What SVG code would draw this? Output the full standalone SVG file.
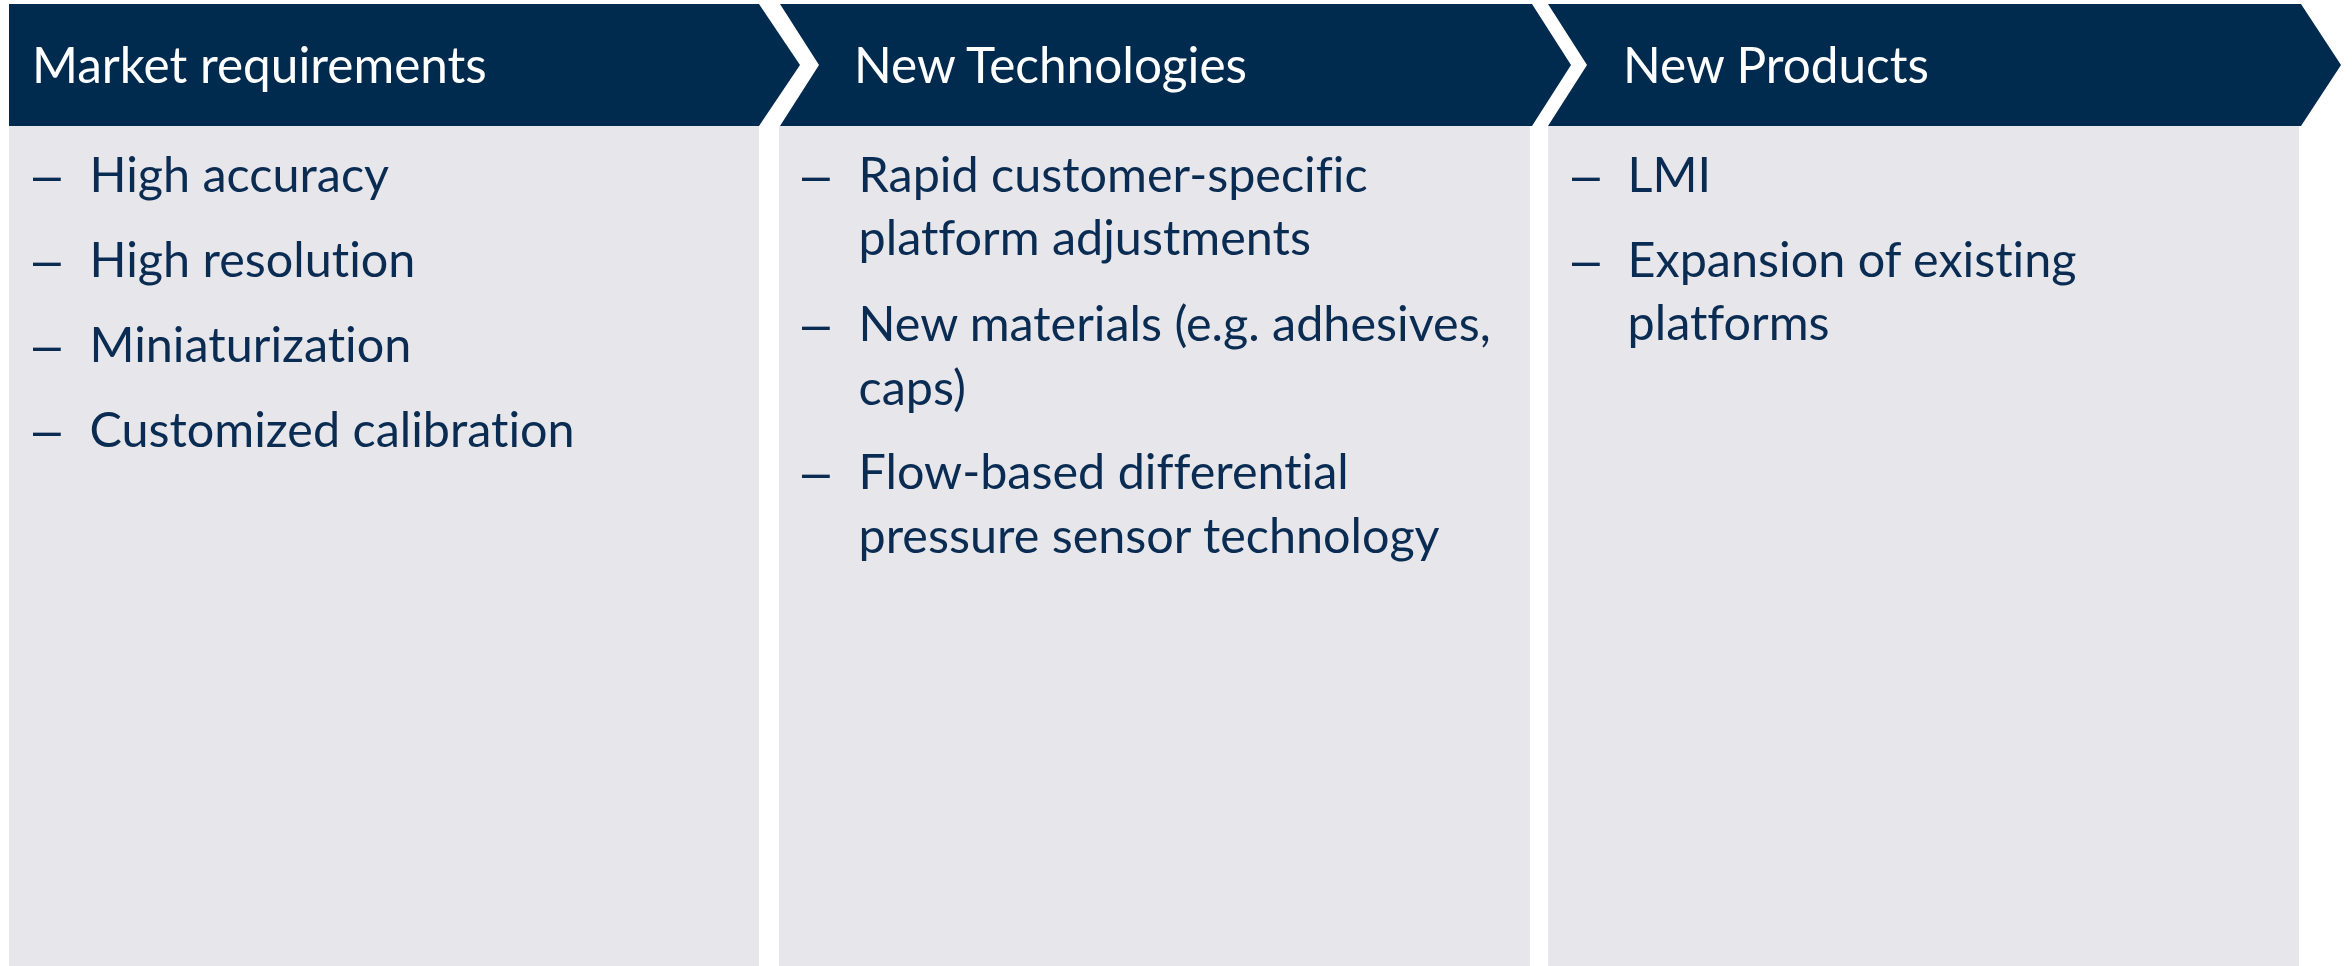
<svg xmlns="http://www.w3.org/2000/svg" width="2352" height="966" viewBox="0 0 2352 966">
<style>
.hdr{fill:#012A4F}
.body{fill:#E7E6EB}
text{font-variant-ligatures:none;font-feature-settings:"liga" 0,"clig" 0}
.ht{font-family:Lato,"Open Sans",sans-serif;font-size:49.5px;fill:#FFFFFF}
.bt{font-family:Lato,"Open Sans",sans-serif;font-size:48.5px;fill:#0B2C52}
.dash{font-family:"Liberation Sans",Arial,sans-serif;font-size:50px;fill:#0B2C52}
</style>
<rect width="2352" height="966" fill="#FFFFFF"/>
<g id="col-market">
<rect class="body" x="9" y="126" width="750" height="840"/>
<path class="hdr" d="M9,4 L759,4 L800,65 L759,126 L9,126 Z"/>
<text class="ht" x="32" y="83">Market requirements</text>
<text class="dash" x="33" y="192">–</text><text class="bt" x="89.5" y="192">High accuracy</text>
<text class="dash" x="33" y="277">–</text><text class="bt" x="89.5" y="277">High resolution</text>
<text class="dash" x="33" y="362">–</text><text class="bt" x="89.5" y="362">Miniaturization</text>
<text class="dash" x="33" y="447">–</text><text class="bt" x="89.5" y="447">Customized calibration</text>
</g>
<g id="col-tech">
<rect class="body" x="779" y="126" width="751" height="840"/>
<path class="hdr" d="M780,4 L1532,4 L1571,65 L1532,126 L780,126 L819,65 Z"/>
<text class="ht" x="854" y="83">New Technologies</text>
<text class="dash" x="802" y="192">–</text><text class="bt" x="858.5" y="192">Rapid customer-specific</text>
<text class="bt" x="858.5" y="255">platform adjustments</text>
<text class="dash" x="802" y="341">–</text><text class="bt" x="858.5" y="341">New materials (e.g. adhesives,</text>
<text class="bt" x="858.5" y="405">caps)</text>
<text class="dash" x="802" y="489">–</text><text class="bt" x="858.5" y="489">Flow-based differential</text>
<text class="bt" x="858.5" y="553">pressure sensor technology</text>
</g>
<g id="col-products">
<rect class="body" x="1548" y="126" width="751" height="840"/>
<path class="hdr" d="M1548,4 L2301,4 L2341,65 L2301,126 L1548,126 L1587,65 Z"/>
<text class="ht" x="1623" y="83">New Products</text>
<text class="dash" x="1572" y="192">–</text><text class="bt" x="1627.5" y="192">LMI</text>
<text class="dash" x="1572" y="277">–</text><text class="bt" x="1627.5" y="277">Expansion of existing</text>
<text class="bt" x="1627.5" y="340">platforms</text>
</g>
<g id="connectors"></g>
</svg>
